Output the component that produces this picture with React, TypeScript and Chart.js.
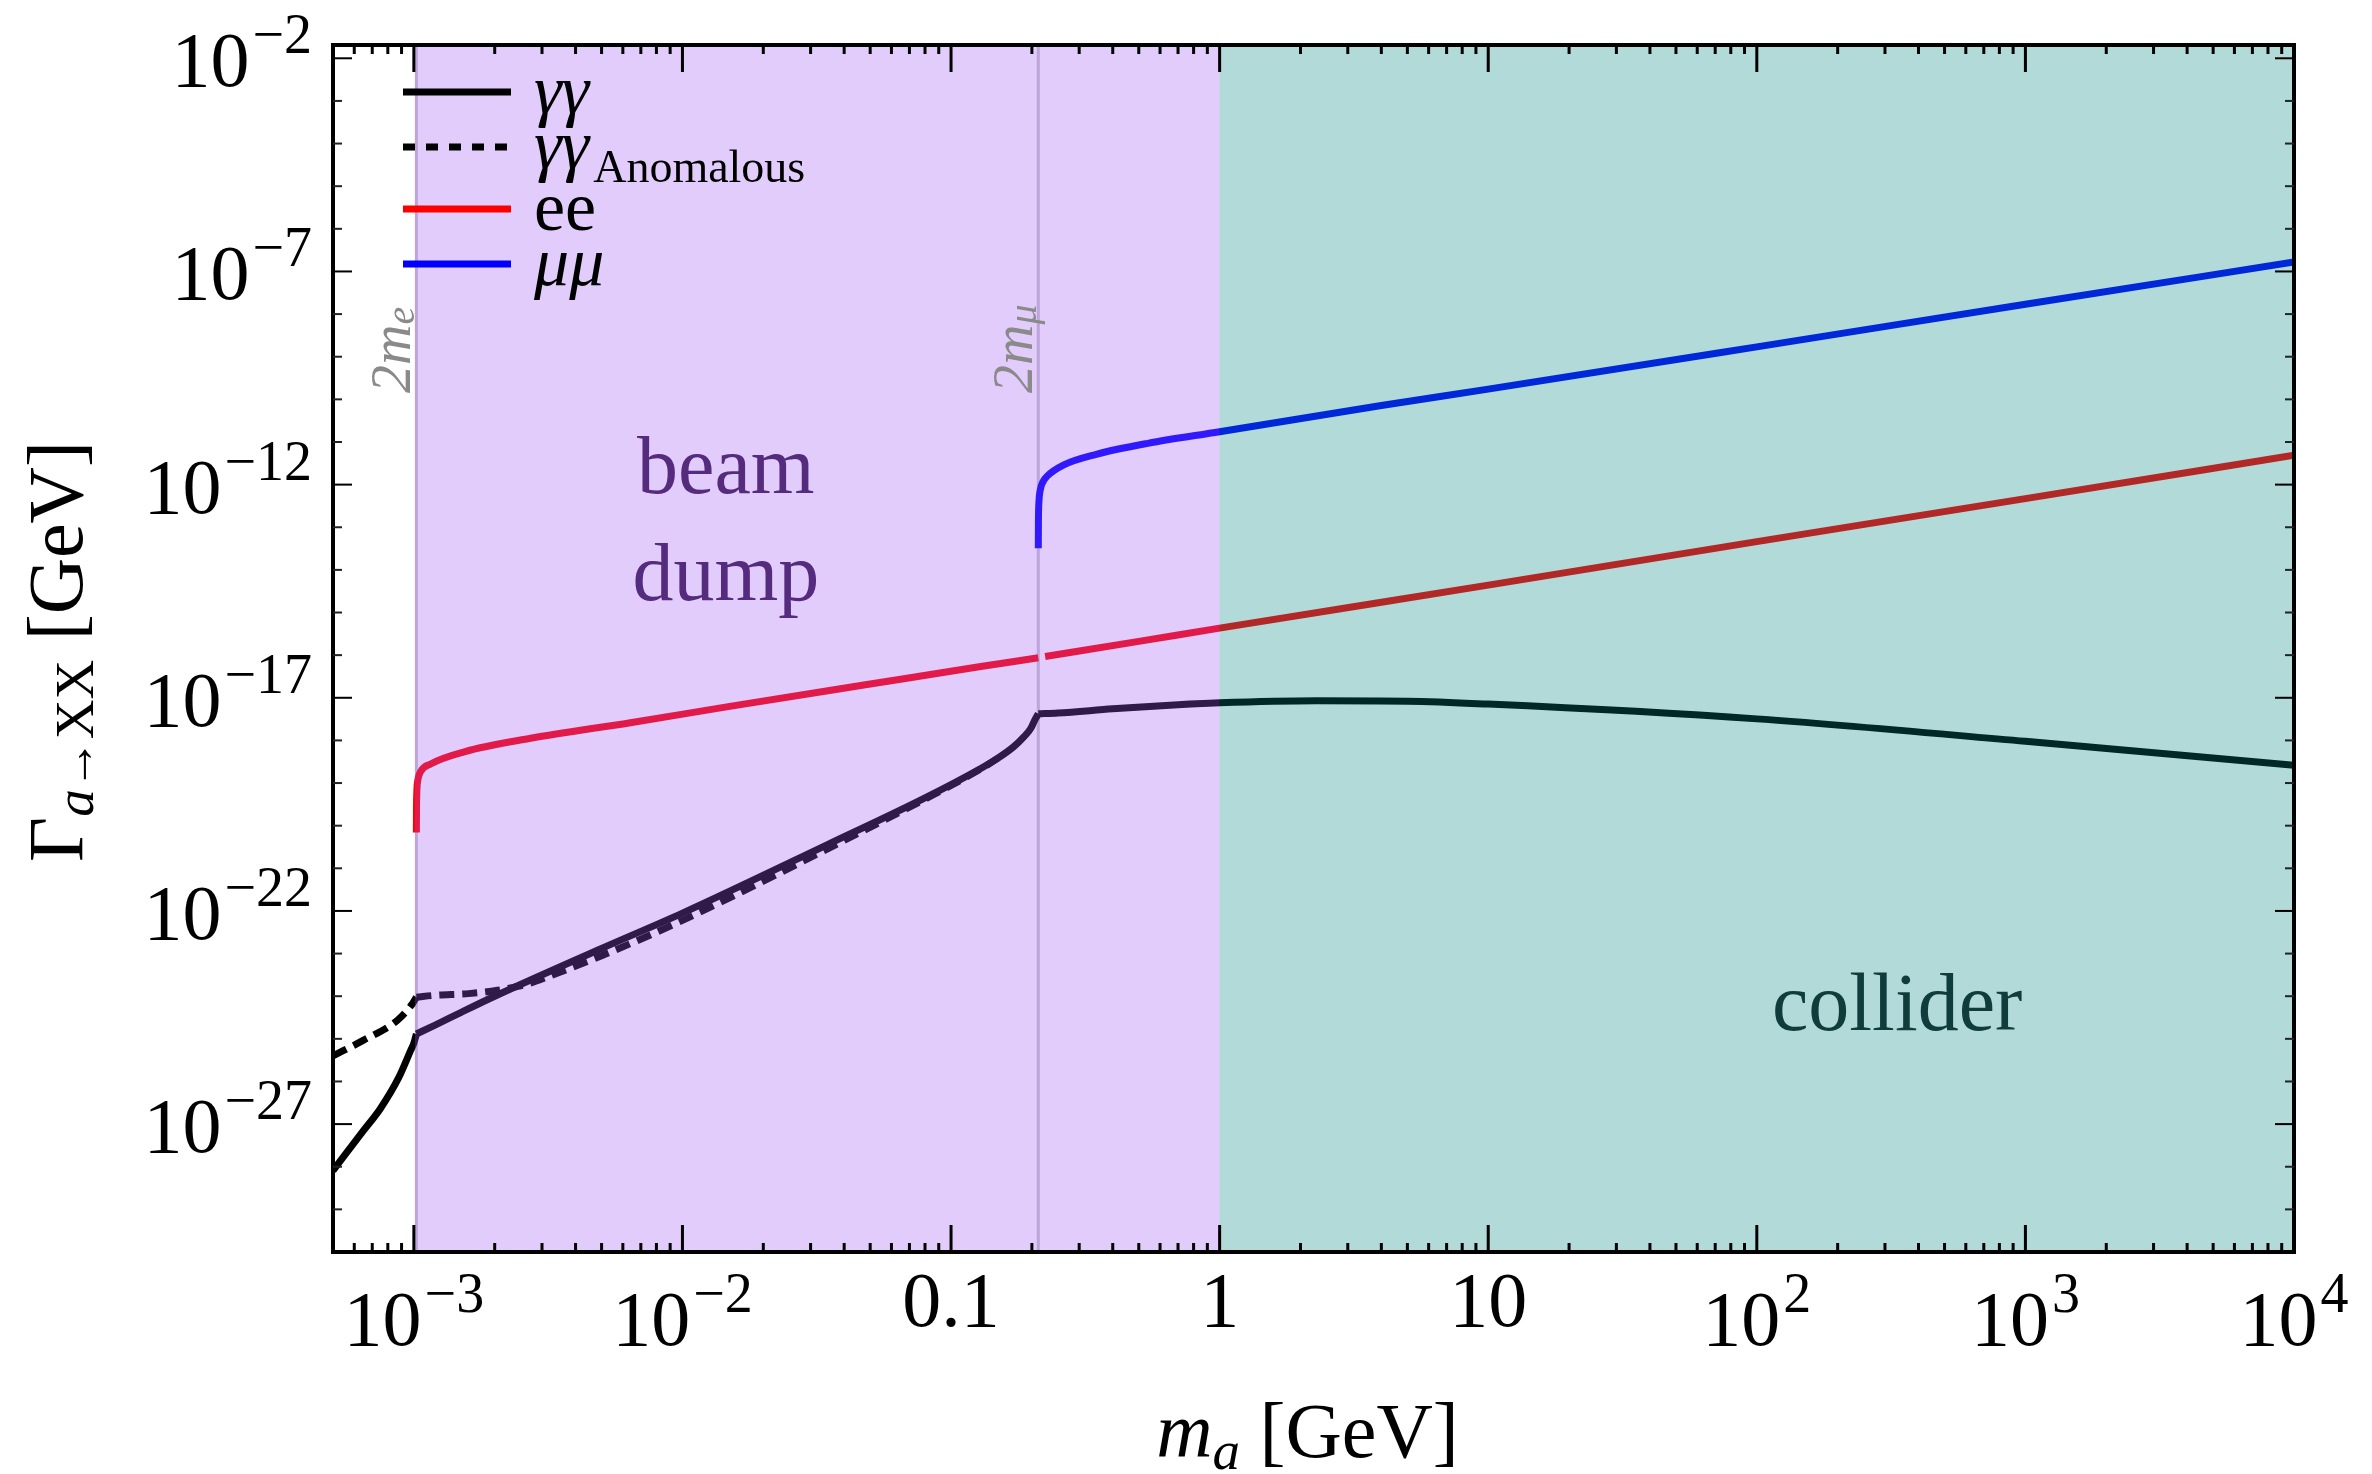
import React, { useEffect, useRef } from "react";
import { Chart, registerables } from "chart.js";

Chart.register(...registerables);

const W = 2372;
const H = 1474;
const SERIF = '"Liberation Serif", "Times New Roman", Times, serif';

// axis ranges
const X_MIN = 5e-4;
const X_MAX = 1e4;
const Y_MIN = 1e-30;
const Y_MAX = 2.05e-2;

// thresholds / regions (GeV)
const TWO_ME = 1.022e-3;
const TWO_MMU = 0.2113;
const REGION_SPLIT = 1;

// γγ (solid)
const ggX = [5e-4, 6.5e-4, 7.5e-4, 8.8e-4, 9.75e-4, 1.0e-3, 1.022e-3, 1.2e-3, 1.5e-3, 2e-3, 5e-3, 1e-2, 3.5e-2, 0.08, 0.129, 0.15, 0.171, 0.187, 0.198, 0.205, 0.2113, 0.25, 0.4, 0.63, 1, 2.3, 5, 10, 100, 1000, 1e4];
const ggY = [8.1e-29, 7.1e-28, 2.3e-27, 1.26e-26, 5.5e-26, 7.9e-26, 1.3e-25, 2.1e-25, 4.2e-25, 1.0e-24, 1.32e-23, 8.9e-23, 3.7e-21, 4.5e-20, 2.2e-19, 3.9e-19, 7.1e-19, 1.23e-18, 1.9e-18, 3.0e-18, 4.2e-18, 4.4e-18, 5.5e-18, 6.6e-18, 7.6e-18, 8.5e-18, 8.3e-18, 7.1e-18, 3.2e-18, 9.5e-19, 2.6e-19];

// γγ anomalous (dashed)
const gaX = [5e-4, 6.5e-4, 8.7e-4, 9.9e-4, 1.022e-3, 1.2e-3, 1.6e-3, 2.05e-3, 2.6e-3, 3.3e-3, 5e-3, 1e-2, 2e-2, 3.5e-2, 0.08, 0.129, 0.15];
const gaY = [4.0e-26, 9.3e-26, 2.75e-25, 6.8e-25, 9.5e-25, 1.05e-24, 1.15e-24, 1.38e-24, 1.86e-24, 3.2e-24, 8.9e-24, 6.0e-23, 5.0e-22, 2.95e-21, 4.2e-20, 2.14e-19, 3.9e-19];

// ee
const eeX = [1.022e-3, 1.023e-3, 1.026e-3, 1.035e-3, 1.06e-3, 1.155e-3, 1.54e-3, 2.72e-3, 6.4e-3, 1.5e-2, 5e-2, 0.129, 0.2113, 0.217, 0.224, 0.5, 1, 10, 100, 1000, 1e4];
const eeY = [6.9e-21, 2.5e-20, 6.3e-20, 1.17e-19, 1.86e-19, 2.8e-19, 5.4e-19, 1.12e-18, 2.6e-18, 6.3e-18, 2.1e-17, 5.4e-17, 8.7e-17, null, 9.3e-17, 2.1e-16, 4.3e-16, 4.4e-15, 4.6e-14, 4.7e-13, 4.9e-12];

// μμ
const mmX = [0.2113, 0.2115, 0.2125, 0.2145, 0.22, 0.228, 0.263, 0.35, 0.54, 1, 4, 10, 100, 1000, 1e4];
const mmY = [3.2e-14, 1.26e-13, 4.0e-13, 7.1e-13, 1.17e-12, 1.58e-12, 2.9e-12, 5.2e-12, 9.3e-12, 1.74e-11, 7.2e-11, 1.74e-10, 1.7e-9, 1.7e-8, 1.66e-7];

// tick labels
const xMajorTicks = [1e-3, 1e-2, 0.1, 1, 10, 100, 1000, 1e4];
const xTickBase = ["10", "10", "0.1", "1", "10", "10", "10", "10"];
const xTickExp = ["\u22123", "\u22122", "", "", "", "2", "3", "4"];
const yMajorTicks = [1e-2, 1e-7, 1e-12, 1e-17, 1e-22, 1e-27];
const yTickBase = ["10", "10", "10", "10", "10", "10"];
const yTickExp = ["\u22122", "\u22127", "\u221212", "\u221217", "\u221222", "\u221227"];

// annotation anchors (data coordinates)
const BEAM_X = 0.0145;
const BEAM_Y1 = 6.3e-13;
const BEAM_Y2 = 1.95e-15;
const COLL_X = 333;
const COLL_Y = 1.6e-25;

type Pt = { x: number; y: number | null };
const toPts = (xs: number[], ys: (number | null)[]): Pt[] => xs.map((x, i) => ({ x, y: ys[i] }));
// split a curve into pieces at given x values (shared end points) so sharp thresholds stay sharp
function splitAt(pts: Pt[], cuts: number[]): Pt[][] {
  const out: Pt[][] = [];
  let cur: Pt[] = [];
  for (const p of pts) {
    cur.push(p);
    if (cuts.some((c) => Math.abs(c - p.x) / c < 1e-6) && cur.length > 1) {
      out.push(cur);
      cur = [p];
    }
  }
  if (cur.length > 1) out.push(cur);
  return out;
}

function minorTicksX(): number[] {
  const out: number[] = [];
  for (let e = -4; e <= 3; e++) {
    for (let m = 2; m <= 9; m++) {
      const v = m * Math.pow(10, e);
      if (v > X_MIN * 1.0001 && v < X_MAX) out.push(v);
    }
  }
  return out;
}
function minorTicksY(): number[] {
  const out: number[] = [];
  for (let e = -29; e <= -3; e++) {
    if ((e + 2) % 5 !== 0) out.push(Math.pow(10, e));
  }
  return out;
}

function line(ctx: CanvasRenderingContext2D, x0: number, y0: number, x1: number, y1: number) {
  ctx.beginPath();
  ctx.moveTo(x0, y0);
  ctx.lineTo(x1, y1);
  ctx.stroke();
}

type Run = { t: string; font: string; dy?: number; gap?: number };
function runsWidth(ctx: CanvasRenderingContext2D, runs: Run[]) {
  let w = 0;
  for (const r of runs) {
    ctx.font = r.font;
    w += ctx.measureText(r.t).width + (r.gap || 0);
  }
  return w;
}
function drawRuns(ctx: CanvasRenderingContext2D, runs: Run[], x: number, y: number) {
  let cx = x;
  for (const r of runs) {
    ctx.font = r.font;
    ctx.fillText(r.t, cx, y + (r.dy || 0));
    cx += ctx.measureText(r.t).width + (r.gap || 0);
  }
}

const decorPlugin = {
  id: "decor",
  beforeDatasetsDraw(chart: any) {
    const { ctx, chartArea: a } = chart;
    const xs = chart.scales.x;
    ctx.save();
    ctx.strokeStyle = "rgb(200,200,205)";
    ctx.lineWidth = 3;
    for (const v of [TWO_ME, TWO_MMU]) {
      const px = xs.getPixelForValue(v);
      line(ctx, px, a.top, px, a.bottom);
    }
    ctx.restore();
  },
  afterDatasetsDraw(chart: any) {
    const { ctx, chartArea: a } = chart;
    const xs = chart.scales.x;
    ctx.save();
    const pMe = xs.getPixelForValue(TWO_ME);
    const p1 = xs.getPixelForValue(REGION_SPLIT);
    ctx.fillStyle = "rgba(158,85,245,0.3)";
    ctx.fillRect(pMe - 1.5, a.top, p1 - pMe + 1.5, a.bottom - a.top);
    ctx.fillStyle = "rgba(0,131,127,0.3)";
    ctx.fillRect(p1, a.top, a.right - p1, a.bottom - a.top);
    ctx.restore();
  },
  afterDraw(chart: any) {
    const { ctx, chartArea: a } = chart;
    const xs = chart.scales.x;
    const ys = chart.scales.y;
    ctx.save();
    ctx.textBaseline = "alphabetic";

    // region labels
    ctx.textAlign = "center";
    ctx.font = `82px ${SERIF}`;
    ctx.fillStyle = "#552B7E";
    const bx = xs.getPixelForValue(BEAM_X);
    ctx.fillText("beam", bx, ys.getPixelForValue(BEAM_Y1));
    ctx.fillText("dump", bx, ys.getPixelForValue(BEAM_Y2));
    ctx.fillStyle = "#0F3D3B";
    ctx.fillText("collider", xs.getPixelForValue(COLL_X), ys.getPixelForValue(COLL_Y));

    // threshold labels (rotated)
    ctx.textAlign = "left";
    ctx.fillStyle = "#8A8A8A";
    const thr: [number, string][] = [[TWO_ME, "e"], [TWO_MMU, "\u03bc"]];
    for (const [v, sub] of thr) {
      const px = xs.getPixelForValue(v);
      ctx.save();
      ctx.translate(px - 6, 393);
      ctx.rotate(-Math.PI / 2);
      drawRuns(ctx, [
        { t: "2m", font: `italic 56px ${SERIF}` },
        { t: sub, font: `italic 40px ${SERIF}`, dy: 4 },
      ], 0, 0);
      ctx.restore();
    }

    // legend
    const rows = [a.top + 47, a.top + 102, a.top + 164, a.top + 219];
    const lx0 = a.left + 70;
    const lx1 = a.left + 178;
    const tx = a.left + 201;
    ctx.lineWidth = 7;
    ctx.lineCap = "butt";
    ctx.strokeStyle = "#000000";
    line(ctx, lx0, rows[0], lx1, rows[0]);
    ctx.setLineDash([12, 11]);
    line(ctx, lx0, rows[1], lx1, rows[1]);
    ctx.setLineDash([]);
    ctx.strokeStyle = "#ff0000";
    line(ctx, lx0, rows[2], lx1, rows[2]);
    ctx.strokeStyle = "#0000ff";
    line(ctx, lx0, rows[3], lx1, rows[3]);
    ctx.fillStyle = "#000000";
    drawRuns(ctx, [{ t: "\u03b3\u03b3", font: `italic 70px ${SERIF}` }], tx, rows[0] + 21);
    drawRuns(ctx, [
      { t: "\u03b3\u03b3", font: `italic 70px ${SERIF}`, gap: 4 },
      { t: "Anomalous", font: `46px ${SERIF}`, dy: 14 },
    ], tx, rows[1] + 21);
    drawRuns(ctx, [{ t: "ee", font: `70px ${SERIF}` }], tx, rows[2] + 21);
    drawRuns(ctx, [{ t: "\u03bc\u03bc", font: `italic 70px ${SERIF}` }], tx, rows[3] + 21);

    // frame
    ctx.strokeStyle = "#000000";
    ctx.lineWidth = 4;
    ctx.strokeRect(a.left, a.top, a.right - a.left, a.bottom - a.top);

    // x ticks (bottom + top)
    ctx.lineWidth = 3;
    const drawXT = (v: number, len: number) => {
      const px = xs.getPixelForValue(v);
      line(ctx, px, a.bottom, px, a.bottom - len);
      line(ctx, px, a.top, px, a.top + len);
    };
    minorTicksX().forEach((v) => drawXT(v, 9));
    xMajorTicks.forEach((v) => drawXT(v, 27));

    // y ticks (left + right)
    ctx.lineWidth = 2;
    ctx.strokeStyle = "#222222";
    const drawYT = (v: number, len: number) => {
      const py = ys.getPixelForValue(v);
      line(ctx, a.left, py, a.left + len, py);
      line(ctx, a.right, py, a.right - len, py);
    };
    minorTicksY().forEach((v) => drawYT(v, 9));
    ctx.strokeStyle = "#000000";
    yMajorTicks.forEach((v) => drawYT(v, 19));

    // tick labels
    ctx.fillStyle = "#000000";
    ctx.textAlign = "left";
    const BASE = `78px ${SERIF}`;
    const EXP = `56px ${SERIF}`;
    xMajorTicks.forEach((v, i) => {
      const px = xs.getPixelForValue(v);
      const base = xTickBase[i];
      const ex = xTickExp[i];
      if (ex) {
        const runs: Run[] = [
          { t: base, font: BASE, gap: 3 },
          { t: ex, font: EXP, dy: -33 },
        ];
        const w = runsWidth(ctx, runs);
        drawRuns(ctx, runs, px - w / 2, a.bottom + 93);
      } else {
        ctx.font = BASE;
        const w = ctx.measureText(base).width;
        ctx.fillText(base, px - w / 2, a.bottom + 74);
      }
    });
    const lxr = a.left - 21;
    yMajorTicks.forEach((v, i) => {
      const py = ys.getPixelForValue(v);
      const runs: Run[] = [
        { t: yTickBase[i], font: BASE, gap: 3 },
        { t: yTickExp[i], font: EXP, dy: -33 },
      ];
      const w = runsWidth(ctx, runs);
      drawRuns(ctx, runs, lxr - w, py + 28);
    });

    // x title
    const xt: Run[] = [
      { t: "m", font: `italic 78px ${SERIF}` },
      { t: "a", font: `italic 55px ${SERIF}`, dy: 12 },
      { t: " [GeV]", font: `78px ${SERIF}` },
    ];
    const xtw = runsWidth(ctx, xt);
    drawRuns(ctx, xt, (a.left + a.right) / 2 - 6 - xtw / 2, a.bottom + 205);

    // y title (rotated)
    const yt: Run[] = [
      { t: "\u0393", font: `78px ${SERIF}` },
      { t: "a", font: `italic 55px ${SERIF}`, dy: 11 },
      { t: "\u2192", font: `50px ${SERIF}`, dy: 11 },
      { t: "XX", font: `55px ${SERIF}`, dy: 11 },
      { t: " [GeV]", font: `78px ${SERIF}` },
    ];
    const ytw = runsWidth(ctx, yt);
    ctx.save();
    ctx.translate(82, (a.top + a.bottom) / 2 + 3 + ytw / 2);
    ctx.rotate(-Math.PI / 2);
    drawRuns(ctx, yt, 0, 0);
    ctx.restore();

    ctx.restore();
  },
};

export default function App() {
  const ref = useRef<HTMLCanvasElement | null>(null);
  useEffect(() => {
    document.body.style.margin = "0";
    document.body.style.overflow = "hidden";
    const canvas = ref.current;
    if (!canvas) return;
    const common = {
      pointRadius: 0,
      borderWidth: 7,
      fill: false,
      cubicInterpolationMode: "monotone" as const,
      borderJoinStyle: "round" as const,
      borderCapStyle: "butt" as const,
      spanGaps: false,
    };
    const ggParts = splitAt(toPts(ggX, ggY), [TWO_ME, TWO_MMU]);
    const gaParts = splitAt(toPts(gaX, gaY), [TWO_ME]);
    const datasets: any[] = [];
    ggParts.forEach((d, i) => datasets.push({ ...common, label: i === 0 ? "\u03b3\u03b3" : `\u03b3\u03b3 (${i})`, data: d, borderColor: "#000000" }));
    gaParts.forEach((d, i) => datasets.push({ ...common, label: i === 0 ? "\u03b3\u03b3 Anomalous" : `\u03b3\u03b3 Anomalous (${i})`, data: d, borderColor: "#000000", borderDash: [15, 8] }));
    datasets.push({ ...common, label: "ee", data: toPts(eeX, eeY), borderColor: "#ff0000" });
    datasets.push({ ...common, label: "\u03bc\u03bc", data: toPts(mmX, mmY), borderColor: "#0000ff" });
    const chart = new Chart(canvas, {
      type: "line",
      data: { datasets },
      options: {
        animation: false,
        responsive: false,
        devicePixelRatio: 1,
        events: [],
        layout: { padding: { top: 45, right: 78, left: 0, bottom: 0 } },
        plugins: { legend: { display: false }, tooltip: { enabled: false }, title: { display: false } },
        scales: {
          x: {
            type: "logarithmic",
            min: X_MIN,
            max: X_MAX,
            grid: { display: false },
            border: { display: false },
            ticks: { display: false },
            afterFit: (s: any) => { s.height = 222; },
          },
          y: {
            type: "logarithmic",
            min: Y_MIN,
            max: Y_MAX,
            grid: { display: false },
            border: { display: false },
            ticks: { display: false },
            afterFit: (s: any) => { s.width = 333; },
          },
        },
      } as any,
      plugins: [decorPlugin],
    });
    return () => chart.destroy();
  }, []);
  return (
    <div style={{ width: W, height: H, background: "#ffffff" }}>
      <canvas ref={ref} width={W} height={H} style={{ display: "block", width: W, height: H }} />
    </div>
  );
}
